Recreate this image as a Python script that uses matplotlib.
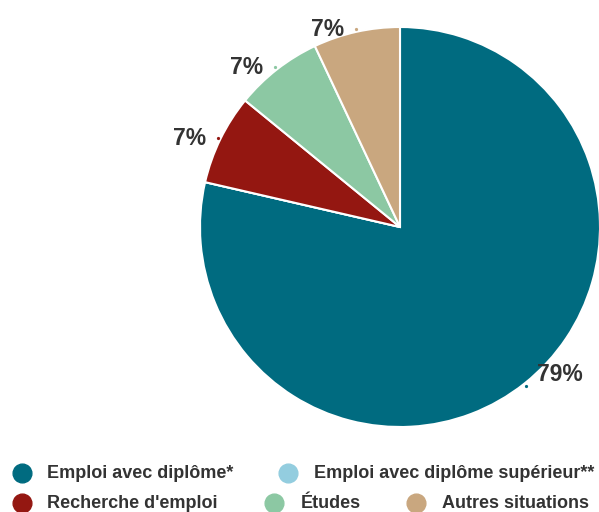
import numpy as np
import matplotlib
matplotlib.use('Agg')
import matplotlib.pyplot as plt
from matplotlib.lines import Line2D

plt.rcParams['font.family'] = ['Liberation Sans', 'DejaVu Sans']

# data
categories = ['Emploi avec diplôme*', 'Emploi avec diplôme supérieur**',
              "Recherche d'emploi", 'Études', 'Autres situations']
values = [78.6, 0, 7.3, 7.1, 7.0]
colors = ['#006b80', '#93cddf', '#941711', '#8cc8a3', '#c9a77f']

W, H = 599, 512
fig = plt.figure(figsize=(W/100, H/100), dpi=100)
cx, cy, r = 400, 227, 200
ax = fig.add_axes([(cx - r)/W, (H - cy - r)/H, 2*r/W, 2*r/H])

wedges, _ = ax.pie(values, colors=colors, startangle=90, counterclock=False,
                   radius=1, wedgeprops=dict(edgecolor='white', linewidth=1.5))
ax.set_xlim(-1, 1)
ax.set_ylim(-1, 1)
ax.axis('off')

for w, v in zip(wedges, values):
    if v == 0:
        continue
    a = np.deg2rad((w.theta1 + w.theta2) / 2)
    ca, sa = np.cos(a), np.sin(a)
    x, y = 1.015*ca, 1.015*sa
    ax.plot([x], [y], marker='o', ms=1.3, color=w.get_facecolor(),
            clip_on=False)
    dx = 11 if ca > 0 else -12
    ha = 'left' if ca > 0 else 'right'
    dy = 11 if sa < 0 else -1
    ax.annotate('%.0f%%' % v, xy=(x, y), xytext=(dx, dy),
                textcoords='offset pixels', ha=ha, va='center', fontsize=16.5,
                fontweight='bold', color='#333333', annotation_clip=False)

# legend rows: (marker x, text x, index)
legend_rows = [
    [(22, 47, 0), (288, 314, 1)],
    [(22, 47, 2), (274, 301, 3), (416, 442, 4)],
]
row_y = [473, 503]
for y, row in zip(row_y, legend_rows):
    for mx, tx, i in row:
        fig.add_artist(Line2D([mx/W], [1 - y/H], marker='o', ms=13.5,
                              color=colors[i], linestyle='none',
                              transform=fig.transFigure))
        fig.text(tx/W, 1 - y/H, categories[i], ha='left', va='center',
                 fontsize=13, fontweight='bold', color='#333333')

fig.savefig('out.png', dpi=100)
